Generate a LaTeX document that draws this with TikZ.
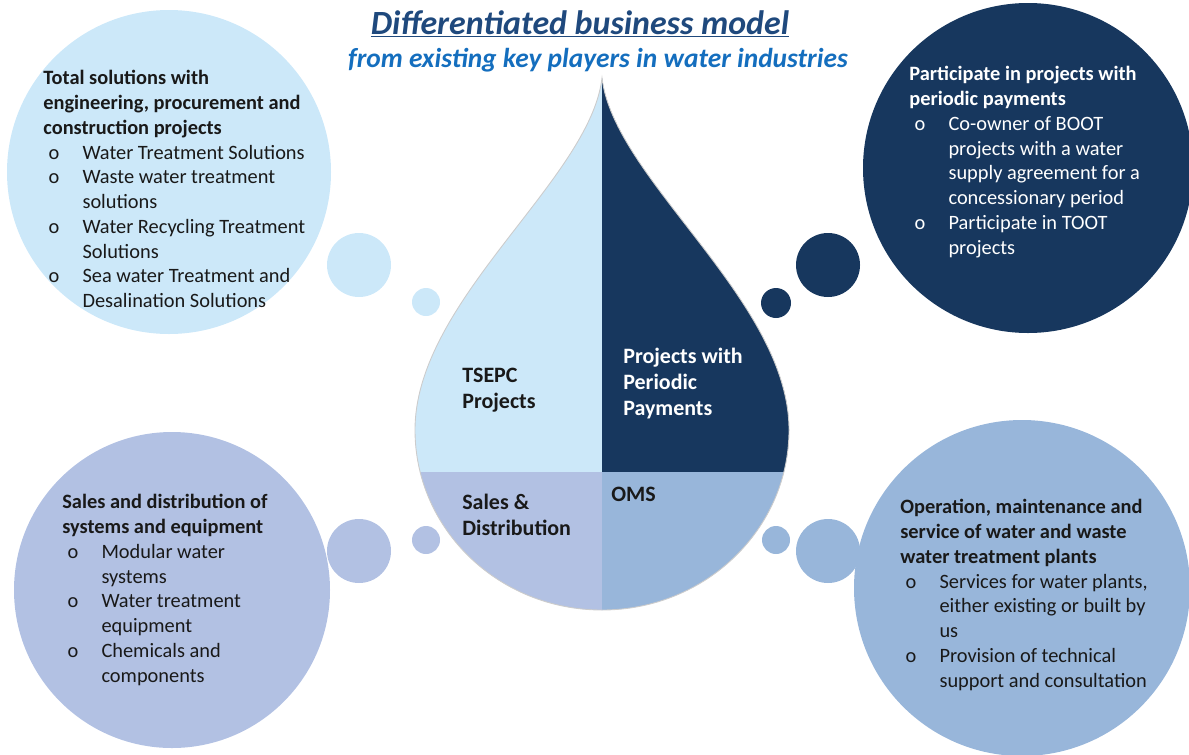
\documentclass[tikz,border=0pt]{standalone}
\usepackage{fontspec}
\setmainfont{Carlito}
\usepackage{tikz}
\definecolor{headblue}{RGB}{31,73,125}
\definecolor{subblue}{RGB}{20,110,190}
\definecolor{tsepc}{RGB}{204,232,249}
\definecolor{ppp}{RGB}{23,55,94}
\definecolor{sales}{RGB}{178,193,227}
\definecolor{oms}{RGB}{152,182,218}
\definecolor{textdark}{RGB}{25,25,25}
\newcommand{\itm}[1]{\hspace*{3pt}\makebox[19.3pt][l]{o}#1}
\newcommand{\cnt}[1]{\hspace*{22.3pt}#1}

\begin{document}
\begin{tikzpicture}[x=0.02cm, y=-0.02cm,
  block/.style={anchor=north west, inner sep=0pt, align=left,
    font=\fontsize{11.6}{14.1}\selectfont, text=textdark},
  droplabel/.style={anchor=north west, inner sep=0pt, align=left,
    font=\fontsize{12.5}{14.8}\selectfont\bfseries, text=textdark},
]
  \useasboundingbox (0,0) rectangle (1189,754);
  \clip (0,0) rectangle (1189,754);

  % Big circles
  \fill[tsepc] (169,172) circle[radius=162];
  \fill[ppp]   (1028,168) circle[radius=165];
  \fill[sales] (172,590) circle[radius=158];
  \fill[oms]   (1022,588) circle[radius=168];

  % Bubbles towards the drop
  \fill[tsepc] (359,265) circle[radius=32];
  \fill[tsepc] (426,302) circle[radius=14];
  \fill[ppp]   (828,265) circle[radius=32];
  \fill[ppp]   (776,303) circle[radius=15];
  \fill[sales] (359,551) circle[radius=32];
  \fill[sales] (426,540) circle[radius=14];
  \fill[oms]   (828,551) circle[radius=32];
  \fill[oms]   (776,540) circle[radius=14];

  % Drop split into four quadrants
  \def\droppath{(602,78) .. controls (590,180) and (415,300) .. (415,430)
    arc[start angle=180, end angle=0, x radius=187, y radius=180]
    .. controls (789,300) and (614,180) .. (602,78) -- cycle}
  \begin{scope}
    \clip \droppath;
    \fill[tsepc] (400,60) rectangle (602,472);
    \fill[ppp]   (602,60) rectangle (800,472);
    \fill[sales] (400,472) rectangle (602,620);
    \fill[oms]   (602,472) rectangle (800,620);
  \end{scope}
  \draw[black!20, line width=0.5pt] \droppath;

  % Title
  \node[font=\fontsize{19.3}{22}\selectfont\bfseries\itshape, text=headblue]
    (title) at (580,24) {\underline{Differentiated business model}};
  \node[font=\fontsize{15.6}{18}\selectfont\bfseries\itshape, text=subblue]
    (subtitle) at (598,60) {from existing key players in water industries};

  % Drop labels
  \node[droplabel] (tsepcl) at (462,368) {TSEPC\\Projects};
  \node[droplabel, text=white] (pppl) at (623,348)
    {Projects with\\Periodic\\Payments};
  \node[droplabel] (salesl) at (462,494) {Sales \&\\Distribution};
  \node[droplabel] (omsl) at (611,487) {OMS};

  % Circle texts
  \node[block] (tsepctxt) at (43,70)
    {\textbf{Total solutions with}\\
     \textbf{engineering, procurement and}\\
     \textbf{construction projects}\\
     \itm{Water Treatment Solutions}\\
     \itm{Waste water treatment}\\
     \cnt{solutions}\\
     \itm{Water Recycling Treatment}\\
     \cnt{Solutions}\\
     \itm{Sea water Treatment and}\\
     \cnt{Desalination Solutions}};
  \node[block, text=white] (ppptxt) at (909,66)
    {\textbf{Participate in projects with}\\
     \textbf{periodic payments}\\
     \itm{Co-owner of BOOT}\\
     \cnt{projects with a water}\\
     \cnt{supply agreement for a}\\
     \cnt{concessionary period}\\
     \itm{Participate in TOOT}\\
     \cnt{projects}};
  \node[block] (salestxt) at (62,494)
    {\textbf{Sales and distribution of}\\
     \textbf{systems and equipment}\\
     \itm{Modular water}\\
     \cnt{systems}\\
     \itm{Water treatment}\\
     \cnt{equipment}\\
     \itm{Chemicals and}\\
     \cnt{components}};
  \node[block] (omstxt) at (900,499)
    {\textbf{Operation, maintenance and}\\
     \textbf{service of water and waste}\\
     \textbf{water treatment plants}\\
     \itm{Services for water plants,}\\
     \cnt{either existing or built by}\\
     \cnt{us}\\
     \itm{Provision of technical}\\
     \cnt{support and consultation}};
\end{tikzpicture}
\end{document}
